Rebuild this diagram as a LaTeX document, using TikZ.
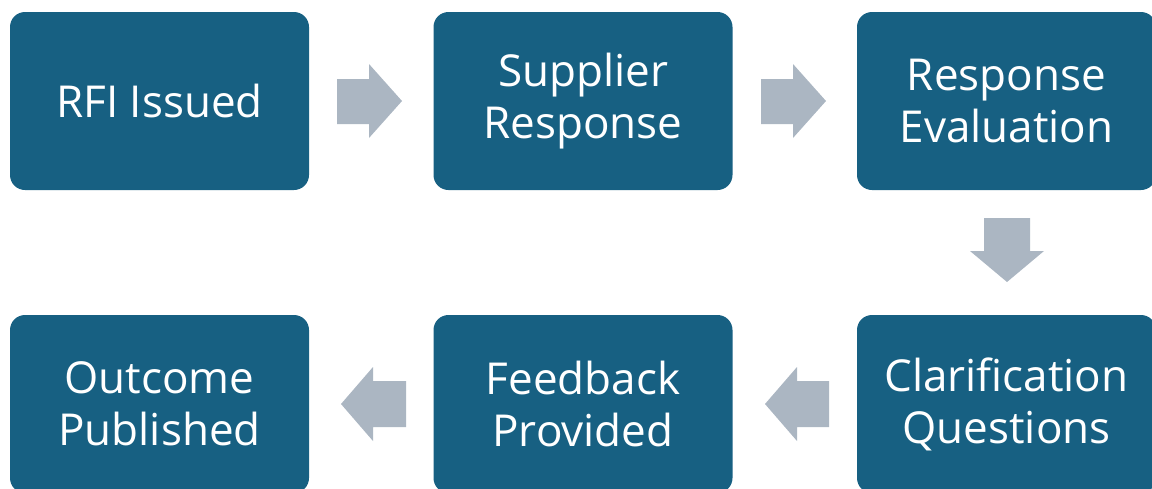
\documentclass[tikz,border=0pt]{standalone}
\usepackage{fontspec}
\setmainfont{Open Sans}
\definecolor{boxblue}{HTML}{176082}
\definecolor{arrowgray}{HTML}{ABB6C2}
\tikzset{
  stepbox/.style={fill=boxblue, draw=none, rounded corners=15pt, minimum width=299pt, minimum height=178pt,
    text=white, align=center, inner sep=0pt, font=\fontsize{44}{52}\selectfont},
  blockarrow/.style={fill=arrowgray, draw=none}
}
\begin{document}
\begin{tikzpicture}[x=1pt,y=-1pt]
\useasboundingbox (0,0) rectangle (1152,488);
\clip (0,0) rectangle (1152,488);
\node[stepbox] (a) at (159.5,101) {RFI Issued};
\node[stepbox] (b) at (583,101) {Supplier\\Response};
\node[stepbox] (c) at (1006.5,101) {Response\\Evaluation};
\node[stepbox] (d) at (1006.5,404) {Clarification\\Questions};
\node[stepbox] (e) at (583,404) {Feedback\\Provided};
\node[stepbox] (f) at (159.5,404) {Outcome\\Published};
% right arrows
\fill[blockarrow] (337,79) -- (369,79) -- (369,64) -- (402,101) -- (369,138) -- (369,124) -- (337,124) -- cycle;
\fill[blockarrow] (761,79) -- (793,79) -- (793,64) -- (826,101) -- (793,138) -- (793,124) -- (761,124) -- cycle;
% down arrow
\fill[blockarrow] (984,218) -- (1030,218) -- (1030,251) -- (1044,251) -- (1007,282) -- (970,251) -- (984,251) -- cycle;
% left arrows
\fill[blockarrow] (406,381) -- (373,381) -- (373,367) -- (341,404) -- (373,441) -- (373,427) -- (406,427) -- cycle;
\fill[blockarrow] (829,381) -- (797,381) -- (797,367) -- (765,404) -- (797,441) -- (797,427) -- (829,427) -- cycle;
\end{tikzpicture}
\end{document}
